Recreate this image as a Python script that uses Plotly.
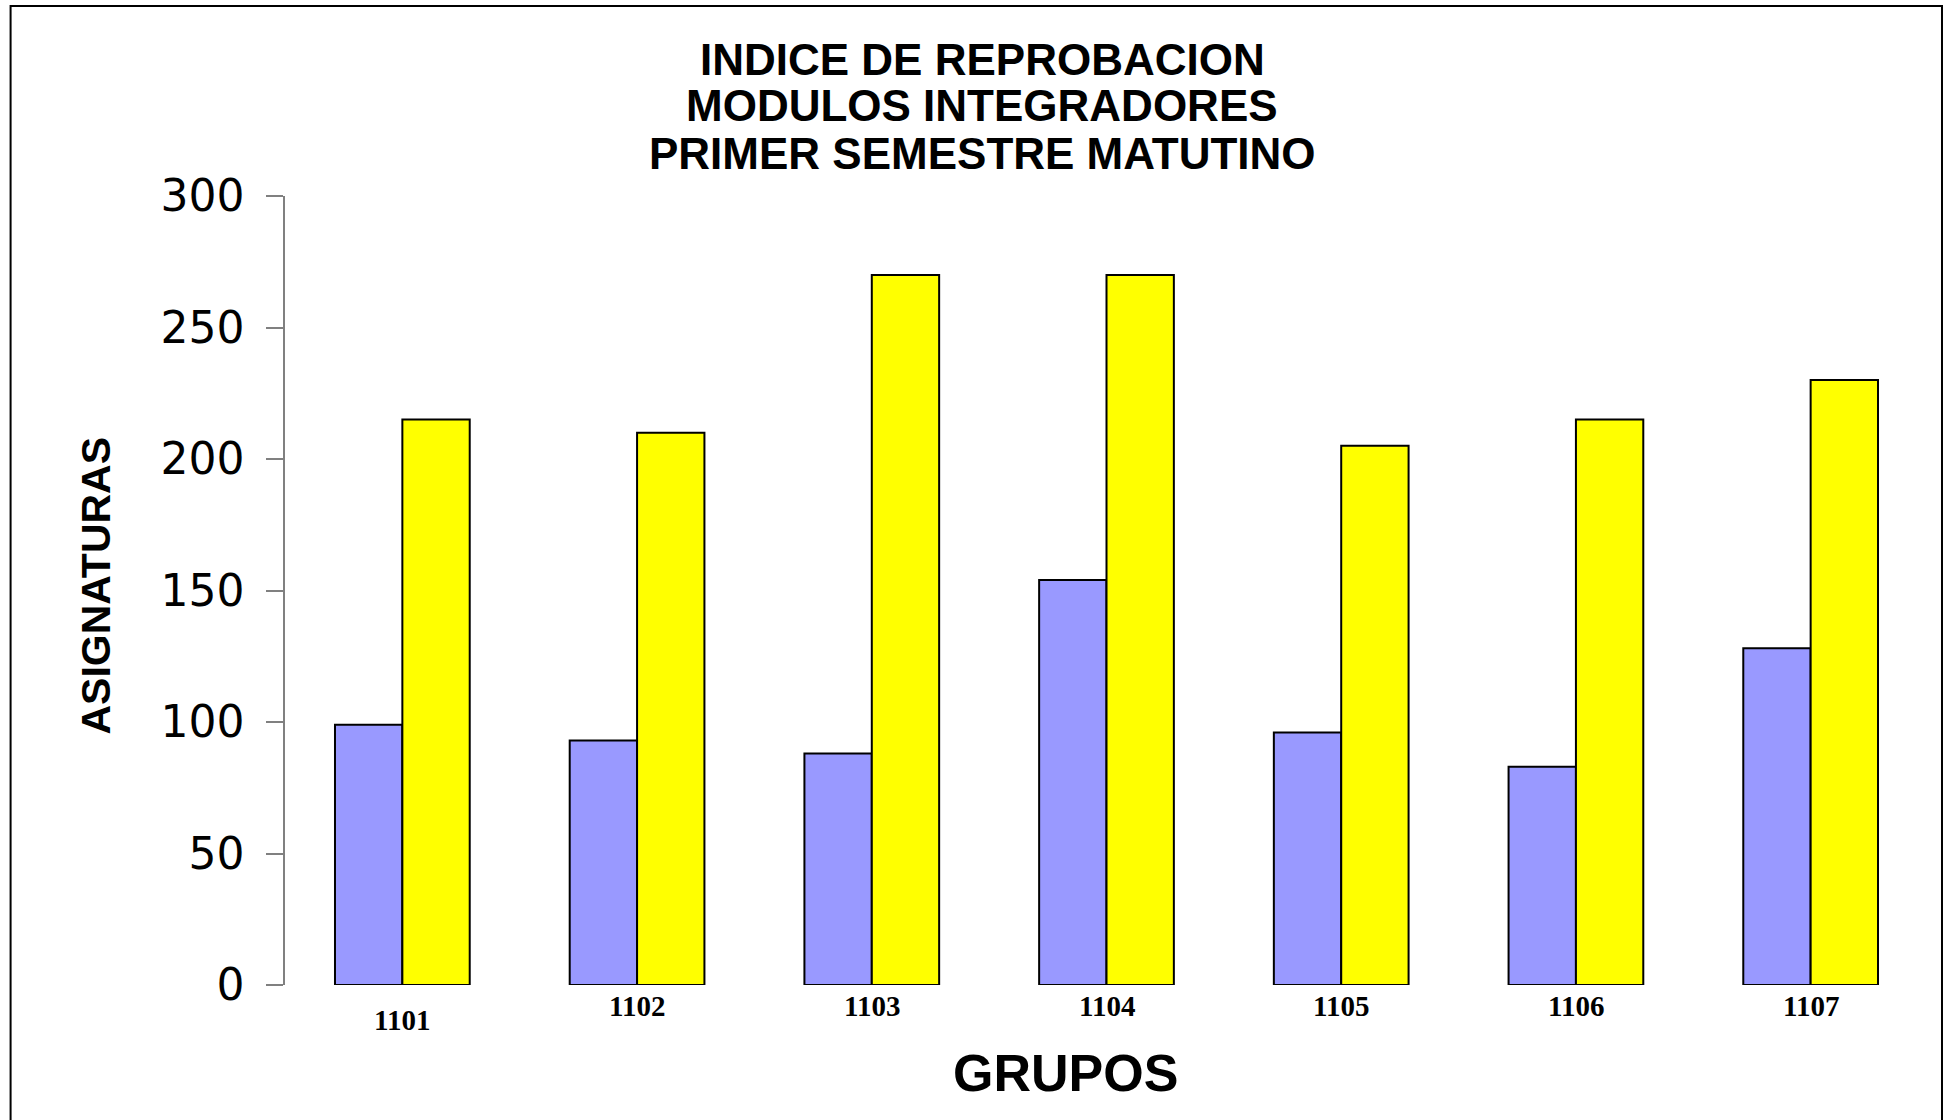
import plotly.graph_objects as go

groups = ["1101", "1102", "1103", "1104", "1105", "1106", "1107"]
serie_a = [99, 93, 88, 154, 96, 83, 128]
serie_b = [215, 210, 270, 270, 205, 215, 230]
title_lines = ["INDICE DE REPROBACION", "MODULOS INTEGRADORES", "PRIMER SEMESTRE MATUTINO"]
y_ticks = [0, 50, 100, 150, 200, 250, 300]

W, H = 1957, 1120
L, R, T, B = 284.5, 1928, 196, 985

def px(x):
    return (x - L) / (R - L)

def py(y):
    return (B - y) / (B - T)

fig = go.Figure()
fig.add_trace(go.Bar(x=groups, y=serie_a, marker=dict(color="#9999FF", line=dict(color="black", width=2)), showlegend=False))
fig.add_trace(go.Bar(x=groups, y=serie_b, marker=dict(color="#FFFF00", line=dict(color="black", width=2)), showlegend=False))

annotations = []
for i, t in enumerate(title_lines):
    annotations.append(dict(text=f"<b>{t}</b>", x=px(982), y=py([60, 106, 153.5][i]), xref="paper", yref="paper",
                            xanchor="center", yanchor="middle", showarrow=False,
                            font=dict(family="Liberation Sans, Arial", size=44, color="black")))
for i, g in enumerate(groups):
    annotations.append(dict(text=f"<b>{g}</b>", x=i, y=py(1006.5), xref="x", yref="paper",
                            xanchor="center", yanchor="middle", showarrow=False,
                            yshift=-13.5 if i == 0 else 0,
                            font=dict(family="Liberation Serif, Times New Roman", size=29, color="black")))
annotations.append(dict(text="<b>GRUPOS</b>", x=px(1065), y=py(1073), xref="paper", yref="paper",
                        xanchor="center", yanchor="middle", showarrow=False,
                        font=dict(family="Liberation Sans, Arial", size=52, color="black")))
annotations.append(dict(text="<b>ASIGNATURAS</b>", x=px(95), y=py(586), xref="paper", yref="paper",
                        xanchor="center", yanchor="middle", showarrow=False, textangle=-90,
                        font=dict(family="Liberation Sans, Arial", size=41, color="black")))

fig.update_layout(
    width=W, height=H,
    margin=dict(l=L, r=W - R, t=T, b=H - B, pad=0),
    paper_bgcolor="white", plot_bgcolor="white",
    barmode="group", bargap=0.426, bargroupgap=0,
    annotations=annotations,
    shapes=[dict(type="rect", xref="paper", yref="paper", x0=px(10), x1=px(1942), y0=py(1130), y1=py(6),
                 line=dict(color="black", width=2), fillcolor="rgba(0,0,0,0)", layer="below")],
    xaxis=dict(type="category", range=[-0.5, 6.5], showticklabels=False, showline=False, showgrid=False,
               zeroline=False, ticks=""),
    yaxis=dict(range=[0, 300], tickvals=y_ticks, showgrid=False, zeroline=False,
               showline=True, linecolor="#808080", linewidth=1.5,
               ticks="outside", ticklen=17, tickcolor="#808080", tickwidth=1.5,
               ticklabelstandoff=13,
               tickfont=dict(family="DejaVu Sans", size=44, color="black")),
)

fig.write_html("out.html", config={"displayModeBar": False},
               post_script="document.body.style.margin='0';")
